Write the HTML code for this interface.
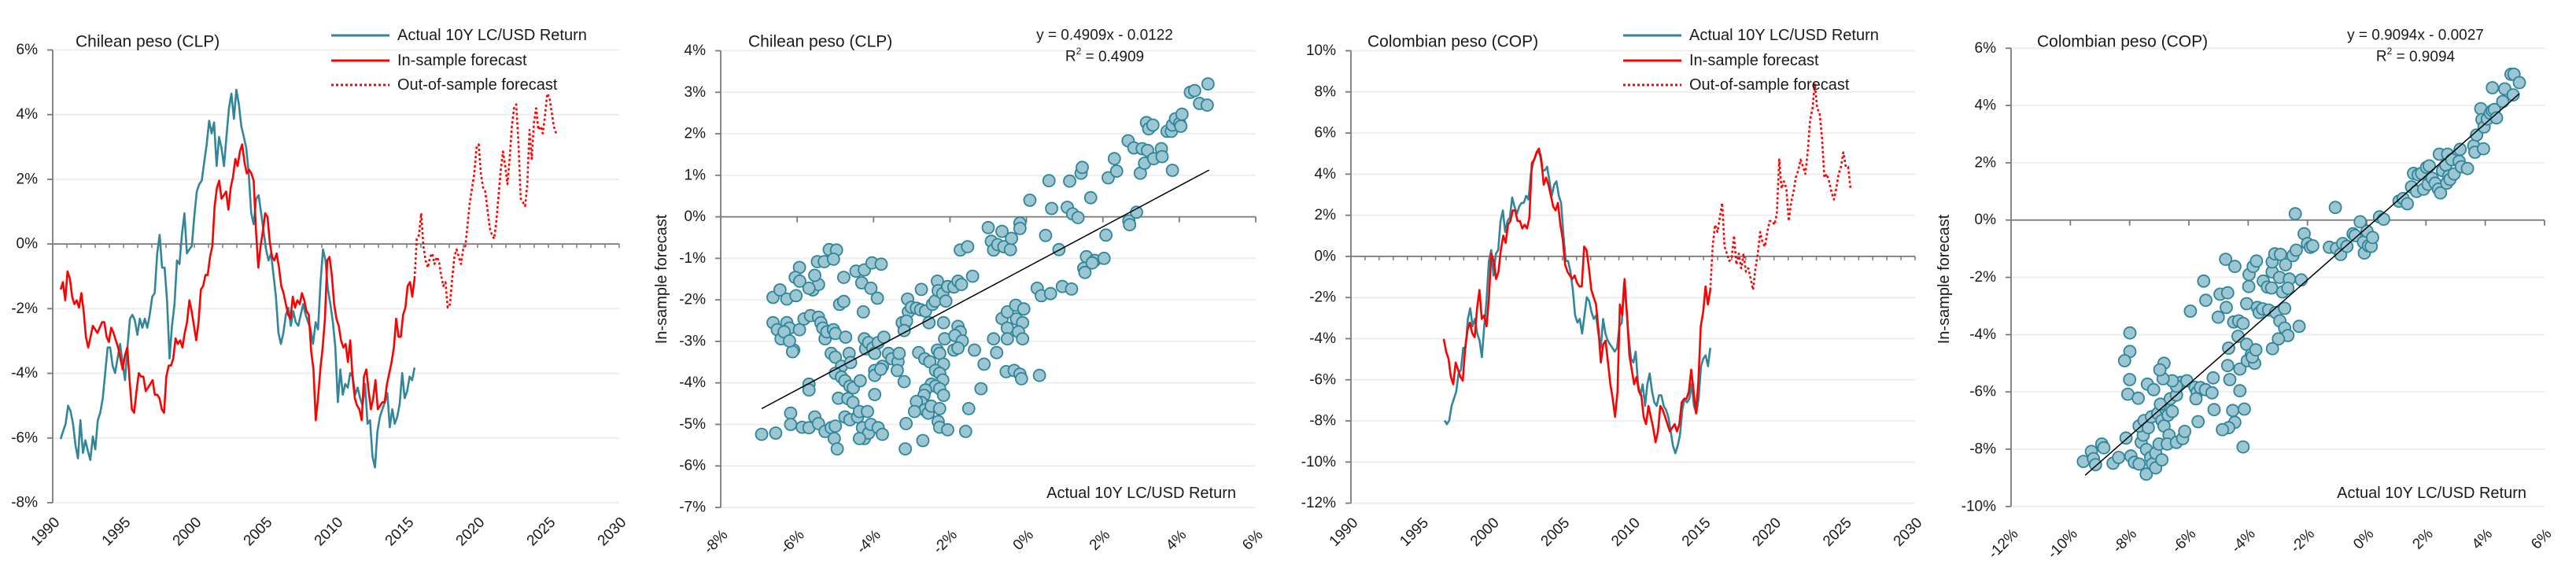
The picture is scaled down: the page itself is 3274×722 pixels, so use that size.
<!DOCTYPE html>
<html><head><meta charset="utf-8">
<style>
html,body{margin:0;padding:0;background:#fff;}
svg{display:block;font-family:"Liberation Sans",sans-serif;}
</style></head>
<body>
<svg id="chart" width="3274" height="722" viewBox="0 0 3274 722" xmlns="http://www.w3.org/2000/svg"></svg>
<script>
// ---------- Data: Chilean peso time series ----------
const clpActualSpan = [1990.56, 2015.55];
const clpActual = [-6.03,-5.79,-5.56,-5.00,-5.17,-5.56,-6.23,-6.63,-5.45,-6.46,-6.07,-6.40,-6.68,-5.95,-6.35,-5.45,-5.22,-4.77,-3.99,-3.20,-3.20,-3.76,-3.99,-3.54,-3.09,-3.65,-4.21,-3.20,-2.31,-2.19,-2.36,-2.81,-2.31,-2.59,-2.31,-2.59,-2.19,-1.63,-1.52,-0.29,0.28,-0.73,-0.73,-1.74,-3.54,-2.53,-1.86,-0.51,-0.62,0.28,0.95,-0.29,-0.17,-0.06,0.84,1.62,1.85,1.96,2.52,3.08,3.81,3.42,3.76,2.41,3.31,2.97,2.41,3.31,4.20,4.65,3.87,4.77,4.32,3.64,3.31,2.97,2.18,0.95,0.61,1.40,1.51,0.95,0.39,-0.17,-0.51,-0.29,-0.96,-1.63,-2.75,-3.09,-2.75,-2.19,-1.97,-2.53,-2.08,-2.42,-2.53,-2.19,-1.86,-2.19,-2.42,-2.64,-3.09,-2.42,-2.64,-1.18,-0.17,-0.51,-1.41,-1.86,-2.42,-3.20,-4.89,-3.88,-4.66,-4.33,-4.44,-3.99,-4.10,-4.66,-4.44,-4.77,-5.00,-4.33,-5.56,-5.45,-6.57,-6.91,-5.79,-5.34,-5.11,-4.89,-4.61,-5.67,-5.11,-5.56,-5.34,-4.94,-3.99,-4.77,-4.55,-4.10,-4.21,-3.82];
const clpInSpan = [1990.56, 2015.55];
const clpInSample = [-1.41,-1.18,-1.74,-0.85,-1.07,-1.63,-1.86,-1.74,-1.97,-1.52,-2.08,-2.87,-3.20,-2.87,-2.53,-2.64,-2.75,-2.59,-2.42,-2.42,-2.87,-3.03,-2.59,-2.75,-2.98,-3.20,-3.54,-3.88,-3.43,-3.20,-4.21,-5.11,-5.22,-4.55,-3.99,-4.10,-4.10,-4.55,-4.44,-4.33,-4.21,-4.66,-4.66,-4.77,-5.11,-5.22,-4.10,-3.76,-3.76,-3.54,-2.92,-3.09,-2.98,-3.20,-2.75,-2.42,-1.74,-2.08,-2.53,-2.98,-2.42,-1.41,-1.30,-0.96,-0.96,-0.40,-0.06,1.17,1.74,1.96,1.40,1.51,1.62,1.06,1.74,2.07,2.63,2.41,2.86,3.08,2.52,2.18,2.30,2.18,1.96,0.39,-0.73,-0.06,0.39,0.95,0.84,0.05,-0.40,-0.51,-0.29,-0.73,-1.30,-1.52,-1.86,-2.19,-2.31,-1.63,-1.97,-1.74,-1.86,-1.52,-1.74,-2.08,-2.19,-3.32,-3.88,-5.45,-4.77,-3.88,-3.20,-2.31,-0.51,-0.40,-0.96,-1.86,-2.31,-2.53,-2.98,-3.20,-3.09,-3.65,-2.98,-4.10,-4.77,-5.00,-5.11,-5.45,-4.10,-3.88,-4.55,-5.11,-4.77,-4.21,-5.11,-5.00,-4.89,-4.89,-4.33,-3.99,-3.65,-3.20,-2.31,-2.87,-2.87,-2.19,-1.97,-1.30,-1.18,-1.63,-1.07];
const clpOosSpan = [2015.55, 2025.54];
const clpOutSample = [-1.07,0.16,0.28,0.95,-0.06,-0.51,-0.73,-0.40,-0.29,-0.62,-0.40,-0.51,-0.96,-1.30,-1.18,-1.97,-1.86,-1.07,-0.40,-0.17,-0.40,-0.62,-0.17,-0.06,0.61,1.29,1.74,2.18,2.97,3.08,2.18,1.74,1.62,1.06,0.50,0.28,0.16,0.73,1.51,2.30,2.86,2.41,1.85,2.63,3.64,4.20,4.32,3.08,1.40,1.29,1.17,1.85,3.53,2.63,3.76,4.20,3.53,3.64,3.42,3.98,4.65,4.54,4.09,3.64,3.42];

// ---------- Data: Colombian peso time series ----------
const copActualSpan = [1996.64, 2015.48];
const copActual = [-7.98,-8.16,-7.98,-7.27,-6.92,-6.57,-5.69,-5.51,-4.45,-4.45,-3.04,-2.52,-3.40,-3.04,-3.75,-4.10,-4.90,-3.40,-2.16,-0.22,0.31,-0.93,0.13,0.31,1.72,2.24,1.19,1.72,1.89,2.86,2.42,2.07,2.42,2.60,2.60,2.95,2.77,4.01,4.54,4.89,5.15,4.89,4.18,4.18,4.36,3.65,2.95,3.48,3.65,2.95,2.60,1.01,-0.22,-0.22,-0.75,-1.63,-2.87,-3.22,-3.04,-3.75,-2.87,-1.99,-2.16,-2.69,-3.04,-2.87,-3.75,-4.45,-3.04,-3.75,-4.10,-4.28,-4.45,-4.63,-4.45,-3.40,-3.22,-1.28,-2.52,-3.93,-4.98,-5.16,-4.63,-6.22,-6.75,-6.22,-7.27,-6.22,-5.69,-6.57,-7.10,-7.27,-6.75,-6.75,-7.27,-7.45,-7.80,-8.51,-9.21,-9.57,-9.21,-8.68,-7.45,-6.92,-7.10,-6.92,-6.22,-7.27,-7.63,-6.92,-5.34,-4.98,-4.81,-5.34,-4.45];
const copInSpan = [1996.58, 2015.48];
const copInSample = [-4.01,-4.63,-4.98,-5.86,-6.22,-5.16,-5.51,-5.86,-6.04,-4.45,-3.57,-3.22,-3.75,-3.93,-2.52,-1.63,-3.04,-2.87,-3.40,-1.99,0.13,-0.22,-1.10,-0.75,0.31,1.01,0.66,1.54,1.72,2.24,2.24,1.72,1.72,1.36,1.54,1.36,1.89,4.54,4.71,5.06,5.24,4.71,3.48,3.83,3.48,2.95,2.42,2.24,2.60,1.54,0.83,-0.40,-0.75,-0.93,-1.10,-0.93,-1.28,-1.46,-1.46,0.48,0.31,-0.58,-1.63,-1.99,-2.34,-3.57,-5.16,-4.28,-4.10,-5.16,-6.22,-6.92,-7.80,-6.57,-2.34,-2.87,-1.10,-2.87,-4.81,-5.51,-6.22,-5.86,-6.57,-6.75,-7.80,-8.16,-7.27,-7.80,-8.33,-9.04,-8.51,-7.27,-7.45,-7.80,-8.16,-8.51,-8.33,-8.16,-8.51,-8.16,-7.10,-6.92,-6.92,-6.57,-5.51,-6.57,-7.63,-6.04,-3.40,-2.69,-1.46,-2.34,-1.63];
const copOosSpan = [2015.48, 2025.42];
const copOutSample = [-1.63,0.48,1.54,1.19,1.89,2.60,0.48,0.13,-0.22,-0.05,1.01,-0.40,0.13,-0.58,0.13,-0.75,-0.58,-1.10,-1.63,-0.58,0.13,1.19,0.66,0.48,1.19,1.72,1.72,1.54,2.07,4.71,3.30,3.65,3.30,1.72,2.60,3.13,3.83,4.18,4.71,4.36,4.01,5.06,6.65,7.18,8.41,7.18,7.00,5.77,3.83,4.01,3.65,3.13,2.77,3.30,4.01,4.36,5.06,4.36,4.36,3.30];

// ---------- Data: CLP scatter (actual x, in-sample forecast y, %) ----------
const clpScatterX = [-6.93,-6.56,-6.63,-6.45,-6.27,-6.03,-5.94,-6.05,-5.93,-6.63,-6.52,-6.42,-6.27,-6.20,-6.34,-6.09,-6.12,-5.94,-6.20,-6.17,-6.17,-5.87,-5.69,-5.69,-5.69,-5.54,-5.44,-5.27,-5.11,-5.00,-5.03,-4.95,-5.82,-5.65,-5.44,-5.38,-5.33,-5.27,-5.22,-5.05,-5.00,-4.73,-5.59,-5.44,-5.54,-5.69,-5.47,-5.29,-5.16,-4.97,-5.05,-4.78,-4.89,-4.78,-5.11,-5.00,-4.84,-5.00,-4.84,-4.75,-4.64,-4.60,-4.62,-4.53,-4.92,-4.67,-4.54,-4.75,-4.62,-4.42,-4.37,-4.35,-4.46,-4.31,-4.27,-4.24,-4.07,-4.04,-3.90,-3.80,-4.24,-4.21,-4.13,-4.02,-3.97,-3.88,-3.73,-3.97,-3.97,-3.77,-3.81,-3.61,-3.52,-3.36,-3.33,-3.38,-3.20,-3.97,-4.16,-4.29,-4.24,-4.13,-4.07,-3.88,-3.77,-4.37,-3.15,-3.17,-3.11,-3.09,-3.01,-3.20,-3.25,-3.14,-3.20,-2.88,-2.77,-2.64,-2.75,-2.55,-2.46,-2.39,-2.33,-2.31,-2.19,-2.11,-2.06,-1.90,-1.79,-1.70,-2.17,-2.14,-1.79,-1.73,-1.87,-1.68,-1.90,-1.79,-2.82,-2.66,-2.53,-2.33,-2.27,-2.17,-2.38,-2.27,-2.19,-2.49,-2.38,-2.27,-2.17,-2.64,-2.68,-2.75,-2.88,-2.66,-2.57,-2.49,-2.93,-2.27,-2.31,-2.27,-2.06,-2.71,-1.59,-1.51,-1.41,-1.73,-1.54,-1.36,-1.11,-1.19,-1.00,-0.92,-0.86,-0.75,-0.64,-0.59,-0.42,-0.39,-0.17,-0.17,-0.86,-0.78,-0.64,-0.50,-0.28,-0.07,-0.26,-0.10,-0.50,-0.50,-0.21,-0.10,-0.53,-0.32,-0.17,-0.13,0.34,0.09,0.28,0.39,0.63,0.50,0.59,0.66,0.85,0.94,1.18,1.07,1.13,1.21,1.35,1.43,1.46,1.57,1.50,1.53,1.68,1.79,1.72,2.03,2.08,2.14,2.30,2.36,2.66,2.68,2.70,2.88,2.81,2.98,3.03,3.09,3.17,3.14,3.20,3.31,3.33,3.53,3.55,3.68,3.82,3.79,3.82,3.90,4.01,4.07,4.04,4.29,4.40,4.53,4.73,4.75];
const clpScatterY = [-5.24,-5.21,-1.94,-1.76,-1.98,-1.90,-1.22,-1.46,-1.55,-2.55,-2.72,-2.94,-2.55,-2.68,-2.77,-3.21,-3.25,-2.72,-2.99,-4.73,-5.00,-5.07,-4.03,-4.17,-5.08,-4.82,-4.98,-5.17,-5.08,-5.04,-5.34,-5.59,-2.46,-2.38,-2.42,-2.55,-2.68,-2.94,-2.77,-2.72,-2.81,-2.90,-1.76,-1.63,-1.41,-1.72,-1.08,-1.08,-0.79,-0.80,-1.02,-1.46,-2.11,-2.04,-3.29,-3.38,-3.60,-3.77,-3.86,-3.95,-3.29,-3.51,-4.08,-4.12,-4.37,-4.38,-4.47,-4.82,-4.89,-4.82,-4.69,-3.95,-1.31,-1.59,-2.29,-1.28,-1.72,-1.11,-1.96,-1.14,-2.94,-3.18,-3.03,-3.16,-3.29,-3.03,-2.90,-3.70,-3.82,-3.60,-3.67,-3.29,-3.42,-3.49,-3.29,-3.70,-3.97,-4.28,-4.69,-5.08,-5.34,-5.21,-5.00,-5.08,-5.24,-5.34,-4.98,-5.59,-1.98,-2.29,-2.18,-2.64,-2.55,-2.51,-2.74,-2.20,-2.24,-2.27,-1.75,-2.55,-2.11,-2.03,-1.55,-1.78,-1.85,-2.03,-1.68,-1.69,-1.55,-1.63,-2.55,-2.94,-2.64,-2.77,-2.86,-2.99,-3.21,-3.16,-3.27,-3.42,-3.49,-3.21,-3.29,-3.55,-3.70,-3.77,-3.93,-4.03,-4.08,-4.14,-4.30,-4.17,-4.30,-4.47,-4.45,-4.65,-4.73,-4.56,-4.69,-4.62,-4.93,-5.07,-5.13,-5.39,-5.17,-4.62,-1.43,-0.80,-0.72,-3.21,-3.55,-4.14,-0.26,-0.59,-0.80,-0.67,-0.35,-0.72,-0.79,-0.52,-0.15,-0.28,-2.94,-3.27,-2.45,-2.29,-2.13,-2.22,-2.46,-2.55,-2.68,-2.94,-2.77,-2.94,-3.73,-3.70,-3.79,-3.90,-3.82,0.40,-1.72,-1.90,-1.85,-0.45,0.87,0.20,-0.79,-1.68,-1.74,0.23,0.86,0.07,-0.02,1.05,1.19,-0.96,-1.24,-1.34,0.46,-1.05,-1.11,-1.00,-0.44,0.94,1.40,1.10,1.83,-0.10,-0.19,0.11,1.66,1.05,1.64,1.29,1.60,2.27,2.12,2.21,1.40,1.64,1.45,2.06,1.12,2.06,2.21,2.36,2.25,2.47,2.18,3.00,3.04,2.73,2.69,3.20];
const clpFit = [0.4909, -1.22];       // slope, intercept (%)
const clpFitRange = [-6.93, 4.78];    // trend line x extent (%)

// ---------- Data: COP scatter ----------
const copScatterX = [-9.56,-9.29,-9.22,-9.15,-8.94,-8.87,-8.56,-8.37,-8.12,-7.96,-7.84,-7.68,-7.44,-7.61,-7.54,-7.68,-7.51,-7.37,-7.26,-7.43,-7.29,-7.23,-7.12,-7.12,-6.91,-7.01,-7.05,-6.91,-6.84,-6.77,-6.96,-6.70,-6.56,-6.67,-6.73,-6.42,-6.21,-6.14,-6.63,-6.42,-6.28,-6.07,-6.42,-6.56,-6.87,-6.84,-6.98,-7.40,-7.19,-7.99,-7.99,-8.17,-8.00,-8.06,-7.71,-5.79,-5.72,-5.61,-5.44,-5.22,-5.76,-5.69,-5.15,-5.18,-5.95,-5.50,-5.43,-5.01,-4.95,-4.76,-4.45,-4.69,-4.74,-4.49,-4.32,-4.17,-4.34,-4.66,-4.69,-4.62,-4.28,-4.28,-4.52,-4.13,-4.45,-4.66,-4.87,-4.17,-4.05,-4.03,-3.89,-3.78,-3.86,-3.74,-4.05,-3.98,-3.97,-3.83,-3.72,-3.69,-3.63,-3.51,-3.31,-3.49,-3.35,-3.21,-3.19,-3.19,-3.10,-2.91,-2.74,-2.94,-2.84,-3.07,-2.93,-2.77,-2.66,-2.98,-3.18,-2.77,-2.61,-2.66,-2.49,-2.38,-2.41,-2.28,-2.21,-2.11,-2.00,-1.90,-1.82,-1.26,-1.06,-1.02,-0.88,-0.81,-0.67,-0.46,-0.39,-0.22,-0.11,-0.08,0.01,0.06,0.15,0.20,0.43,0.57,1.09,1.23,1.37,1.51,1.58,1.68,1.74,1.85,1.92,2.02,2.11,2.07,2.21,2.31,2.42,2.49,2.45,2.56,2.67,2.70,2.77,2.81,2.73,2.87,2.95,3.12,3.15,3.19,3.40,3.61,3.65,3.71,3.94,3.85,3.89,3.96,4.07,4.17,4.24,4.31,4.38,4.24,4.59,4.66,4.87,4.97,4.94,5.15];
const copScatterY = [-8.43,-8.08,-8.33,-8.54,-7.82,-7.95,-8.49,-8.29,-7.61,-8.24,-8.46,-8.52,-8.87,-7.76,-7.51,-7.19,-7.00,-7.25,-6.87,-8.01,-8.29,-8.52,-8.65,-8.14,-8.37,-7.82,-6.75,-7.00,-7.19,-6.62,-6.43,-6.81,-6.68,-7.51,-7.82,-7.76,-7.63,-7.38,-6.24,-6.11,-5.67,-5.61,-5.80,-5.61,-5.54,-5.00,-5.23,-5.73,-5.92,-3.94,-4.59,-4.91,-5.57,-6.08,-6.22,-5.84,-6.01,-5.85,-5.92,-6.03,-6.24,-7.04,-6.62,-5.51,-3.18,-2.13,-2.80,-3.39,-2.59,-1.37,-1.62,-2.54,-3.05,-3.56,-3.52,-3.61,-4.06,-4.47,-5.08,-5.57,-5.20,-5.96,-6.65,-6.60,-7.06,-7.25,-7.32,-7.92,-4.34,-4.91,-4.69,-5.00,-4.78,-4.53,-2.92,-2.32,-1.90,-1.62,-1.43,-3.05,-3.23,-3.10,-3.14,-2.13,-2.34,-2.37,-1.81,-1.46,-1.18,-1.20,-1.56,-2.00,-2.51,-3.23,-3.52,-3.77,-4.03,-4.15,-4.49,-3.08,-2.06,-2.38,-1.24,-1.05,0.22,-3.71,-2.09,-0.48,-0.82,-0.95,-0.90,-0.95,0.44,-0.99,-1.20,-0.82,-0.92,-0.48,-0.54,-0.06,-0.77,-1.15,-0.39,-0.90,-0.92,-0.61,0.11,0.03,0.66,0.75,0.57,1.16,1.63,1.00,1.58,1.63,1.08,1.84,1.89,1.25,1.46,1.29,1.08,0.95,2.30,1.73,1.92,1.29,1.54,1.42,2.30,2.11,1.61,2.05,2.47,1.86,1.80,2.59,2.37,2.97,2.49,3.89,3.51,3.25,3.53,3.73,3.82,3.86,3.57,4.62,4.14,4.58,5.09,5.09,4.37,4.80];
const copFit = [0.9094, -0.27];
const copFitRange = [-9.5, 5.15];

// ---------- Axis tick labels ----------
const yearTicks = [1990,1995,2000,2005,2010,2015,2020,2025,2030];
const clpTsTicks = [6,4,2,0,-2,-4,-6,-8];
const copTsTicks = [10,8,6,4,2,0,-2,-4,-6,-8,-10,-12];
const clpScYTicks = [4,3,2,1,0,-1,-2,-3,-4,-5,-6,-7];
const clpScXTicks = [-8,-6,-4,-2,0,2,4,6];
const copScYTicks = [6,4,2,0,-2,-4,-6,-8,-10];
const copScXTicks = [-12,-10,-8,-6,-4,-2,0,2,4,6];
const legendLabels = ["Actual 10Y LC/USD Return","In-sample forecast","Out-of-sample forecast"];

// ---------- Rendering ----------
const NS = "http://www.w3.org/2000/svg";
const svg = document.getElementById("chart");
const TEAL = "#31869b", RED = "#ff0000", AXIS = "#7a7a7a", GRID = "#eeeeee", TXT = "#1a1a1a";

function mk(tag, attrs, parent) {
  const e = document.createElementNS(NS, tag);
  for (const k in attrs) e.setAttribute(k, attrs[k]);
  (parent || svg).appendChild(e);
  return e;
}
function txt(parent, x, y, s, size, anchor, extra) {
  const t = mk("text", Object.assign({x: x, y: y, "font-size": size, fill: TXT, "text-anchor": anchor || "start", "dominant-baseline": "central"}, extra || {}), parent);
  t.textContent = s;
  return t;
}
function linear(d0, d1, p0, p1) { return v => p0 + (v - d0) * (p1 - p0) / (d1 - d0); }

function yAxis(g, xAx, ticks, ys, x2) {
  ticks.forEach(v => {
    const y = ys(v);
    const gl = mk("line", {x1: xAx, x2: x2, y1: y, y2: y, stroke: GRID, "stroke-width": 2}, g);
    
    
    mk("line", {x1: xAx - 7, x2: xAx, y1: y, y2: y, stroke: AXIS, "stroke-width": 1.8}, g);
    const t = txt(g, xAx - 19, y, v + "%", 19, "end");
    
    
  });
  const y0 = ys(ticks[0]), y1 = ys(ticks[ticks.length - 1]);
  const ax = mk("line", {x1: xAx, x2: xAx, y1: y0, y2: y1, stroke: AXIS, "stroke-width": 1.8}, g);
  
  
}
function xLabels(g, ticks, xs, yLab, fmt) {
  ticks.forEach(v => {
    const x = xs(v);
    const t = txt(g, x + 6, yLab, fmt(v), 19, "end", {transform: "rotate(-45 " + (x + 6) + " " + yLab + ")"});
    
    
  });
}
function seriesPath(g, vals, span, xs, ys, color, dash, name) {
  const n = vals.length;
  let d = "";
  vals.forEach((v, i) => {
    const yr = span[0] + i * (span[1] - span[0]) / (n - 1);
    d += (i ? "L" : "M") + xs(yr).toFixed(1) + "," + ys(v).toFixed(1);
  });
  const attrs = {d: d, fill: "none", stroke: color, "stroke-width": 2.6, "stroke-linejoin": "round"};
  if (dash) attrs["stroke-dasharray"] = dash;
  const p = mk("path", attrs, g);
  
  
}
function legend(g, lx, tx, rows) {
  const styles = [[TEAL, null], [RED, null], [RED, "3 3"]];
  legendLabels.forEach((lab, i) => {
    const y = rows[i];
    const a = {x1: lx, x2: lx + 74, y1: y, y2: y, stroke: styles[i][0], "stroke-width": 3};
    if (styles[i][1]) a["stroke-dasharray"] = styles[i][1];
    const l = mk("line", a, g);
    
    
    const t = txt(g, tx, y, lab, 20, "start");
    
    
  });
}

function tsPanel(cfg) {
  const g = mk("g", {});
  
  
  const xs = linear(1990, 2030, cfg.x0, cfg.x1);
  const ys = linear(cfg.ticks[0], cfg.ticks[cfg.ticks.length - 1], cfg.yTop, cfg.yBot);
  yAxis(g, cfg.x0, cfg.ticks, ys, cfg.x1);
  // zero axis with yearly minor ticks
  const z = ys(0);
  const zl = mk("line", {x1: cfg.x0, x2: cfg.x1, y1: z, y2: z, stroke: AXIS, "stroke-width": 1.8}, g);
  
  
  for (let yr = 1991; yr <= 2030; yr++) mk("line", {x1: xs(yr), x2: xs(yr), y1: z, y2: z + 5, stroke: AXIS, "stroke-width": 1.5}, g);
  xLabels(g, yearTicks, xs, cfg.yBot + 22, v => String(v));
  seriesPath(g, cfg.actual, cfg.actualSpan, xs, ys, TEAL, null, "actual-return-line");
  seriesPath(g, cfg.insample, cfg.inSpan, xs, ys, RED, null, "in-sample-forecast-line");
  seriesPath(g, cfg.oos, cfg.oosSpan, xs, ys, RED, "3 3", "out-of-sample-forecast-line");
  const t = txt(g, cfg.titleX, 53, cfg.title, 21, "start");
  
  
  legend(g, cfg.legX, cfg.legX + 84, [45, 77, 108]);
}

function scPanel(cfg) {
  const g = mk("g", {});
  
  
  const xs = linear(cfg.xTicks[0], cfg.xTicks[cfg.xTicks.length - 1], cfg.x0, cfg.x1);
  const ys = linear(cfg.yTicks[0], cfg.yTicks[cfg.yTicks.length - 1], cfg.yTop, cfg.yBot);
  yAxis(g, cfg.x0, cfg.yTicks, ys, cfg.x1);
  const z = ys(0);
  const zl = mk("line", {x1: cfg.x0, x2: cfg.x1, y1: z, y2: z, stroke: AXIS, "stroke-width": 1.8}, g);
  
  
  cfg.xTicks.forEach(v => { if (v !== cfg.xTicks[0]) mk("line", {x1: xs(v), x2: xs(v), y1: z, y2: z + 7, stroke: AXIS, "stroke-width": 1.8}, g); });
  xLabels(g, cfg.xTicks, xs, cfg.yBot + 32, v => v + "%");
  cfg.px.forEach((xv, i) => {
    const c = mk("circle", {cx: xs(xv).toFixed(1), cy: ys(cfg.py[i]).toFixed(1), r: 7.5, fill: "#9cc6d1", stroke: "#2e8599", "stroke-width": 1.8}, g);
    
    
  });
  const fx0 = cfg.fitRange[0], fx1 = cfg.fitRange[1];
  const tl = mk("line", {x1: xs(fx0), y1: ys(cfg.fit[0] * fx0 + cfg.fit[1]), x2: xs(fx1), y2: ys(cfg.fit[0] * fx1 + cfg.fit[1]), stroke: "#000", "stroke-width": 1.5}, g);
  
  
  let t = txt(g, cfg.titleX, 53, cfg.title, 21, "start");
  
  
  t = txt(g, cfg.eqX, 45, cfg.eq, 19, "middle");
  
  
  t = mk("text", {x: cfg.eqX, y: 72, "font-size": 19, fill: TXT, "text-anchor": "middle", "dominant-baseline": "central"}, g);
  t.innerHTML = 'R<tspan dy="-7" font-size="12">2</tspan><tspan dy="7"> = ' + cfg.r2 + '</tspan>';
  
  
  t = txt(g, cfg.yTitleX, 355, "In-sample forecast", 20, "middle", {transform: "rotate(-90 " + cfg.yTitleX + " 355)"});
  
  
  t = txt(g, cfg.xTitleR, cfg.xTitleY, "Actual 10Y LC/USD Return", 20, "end");
  
  
}

tsPanel({name: "clp-timeseries-panel", x0: 67, x1: 787, yTop: 63.5, yBot: 639, ticks: clpTsTicks,
  actual: clpActual, actualSpan: clpActualSpan, insample: clpInSample, inSpan: clpInSpan, oos: clpOutSample, oosSpan: clpOosSpan,
  title: "Chilean peso (CLP)", titleX: 96, legX: 421});
scPanel({name: "clp-scatter-panel", x0: 916, x1: 1596, yTop: 64.5, yBot: 645, xTicks: clpScXTicks, yTicks: clpScYTicks,
  px: clpScatterX, py: clpScatterY, fit: clpFit, fitRange: clpFitRange,
  title: "Chilean peso (CLP)", titleX: 951, eq: "y = 0.4909x - 0.0122", r2: "0.4909", eqX: 1404,
  yTitleX: 841, xTitleR: 1571, xTitleY: 627});
tsPanel({name: "cop-timeseries-panel", x0: 1717, x1: 2434, yTop: 64.5, yBot: 639.6, ticks: copTsTicks,
  actual: copActual, actualSpan: copActualSpan, insample: copInSample, inSpan: copInSpan, oos: copOutSample, oosSpan: copOosSpan,
  title: "Colombian peso (COP)", titleX: 1738, legX: 2063});
scPanel({name: "cop-scatter-panel", x0: 2556, x1: 3234, yTop: 61.3, yBot: 643.8, xTicks: copScXTicks, yTicks: copScYTicks,
  px: copScatterX, py: copScatterY, fit: copFit, fitRange: copFitRange,
  title: "Colombian peso (COP)", titleX: 2589, eq: "y = 0.9094x - 0.0027", r2: "0.9094", eqX: 3070,
  yTitleX: 2471, xTitleR: 3211, xTitleY: 627});
</script>
</body></html>
